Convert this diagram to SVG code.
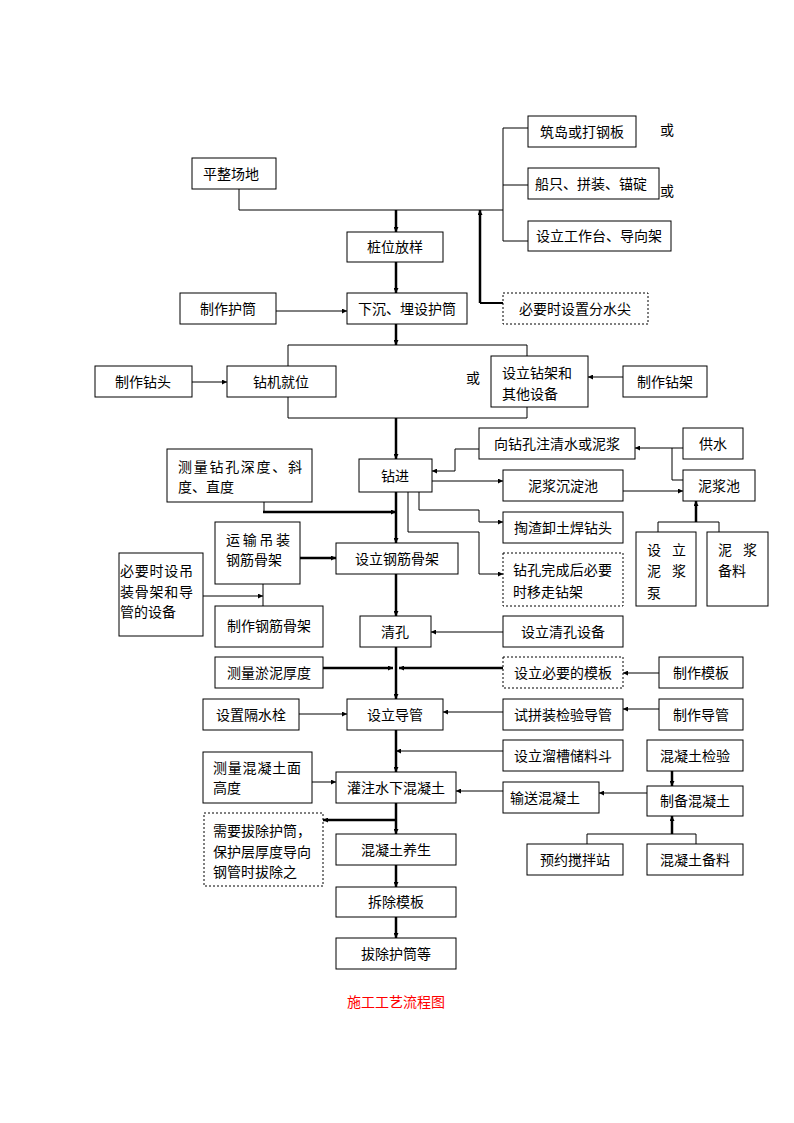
<svg xmlns="http://www.w3.org/2000/svg" width="794" height="1123" viewBox="0 0 794 1123">
<style>
.b{fill:#fff;stroke:#000;stroke-width:1}
.d{fill:#fff;stroke:#000;stroke-width:1;stroke-dasharray:2 2}
text{font-family:"Noto Sans CJK SC","Noto Sans",sans-serif;font-size:14px;fill:#000}
.m{text-anchor:middle}
.c{fill:none;stroke:#000;stroke-width:1}
.t{fill:none;stroke:#000;stroke-width:2.5}
.a{marker-end:url(#ar)}
</style>
<defs>
<marker id="ar" viewBox="0 0 6 6" markerWidth="6" markerHeight="5" refX="6" refY="3" orient="auto" markerUnits="userSpaceOnUse">
<path d="M0,0 L6,3 L0,6 z" fill="#000"/>
</marker>
</defs>
<rect width="794" height="1123" fill="#fff"/>
<g id="connectors">
<path class="c" d="M239,189 V210 H503"/>
<path class="c" d="M503,128 V241 M503,128 H528 M503,185 H528 M503,241 H528"/>
<path class="t a" d="M396,210 V232"/>
<path class="t a" d="M396,262 V293"/>
<path class="c a" d="M276,311 H347"/>
<path class="c" d="M503,303 H480" style="stroke-width:2"/>
<path class="c a" d="M480,303 V210" style="stroke-width:2.5"/>
<path class="t a" d="M396,324 V345"/>
<path class="c" d="M288,366 V345 H527 V356 M288,397 V418 H527 V407"/>
<path class="c a" d="M192,382 H227"/>
<path class="c a" d="M623,377 H588"/>
<path class="t a" d="M396,418 V459"/>
<path class="c a" d="M683,448 H635"/>
<path class="c" d="M672,448 V480 H683"/>
<path class="c a" d="M479,449 H455 V471 H432"/>
<path class="c a" d="M432,481 H503"/>
<path class="c a" d="M623,491 H683"/>
<path class="c" d="M264,502 V512"/>
<path class="t a" d="M263,512 H396"/>
<path class="c a" d="M419,492 V510 H479 V522 H503"/>
<path class="c a" d="M408,492 V532 H479 V574 H503"/>
<path class="t a" d="M396,492 V543"/>
<path class="t a" d="M696,522 V501"/>
<path class="c" d="M658,532 V522 H719 V532"/>
<path class="t a" d="M300,558 H336"/>
<path class="c a" d="M203,596 H263"/>
<path class="c" d="M263,584 V606"/>
<path class="t a" d="M396,574 V616"/>
<path class="c a" d="M503,632 H431"/>
<path class="t a" d="M396,647 V699"/>
<path class="t a" d="M323,668 H393"/>
<path class="t a" d="M503,668 H399"/>
<path class="c a" d="M659,673 H623"/>
<path class="c a" d="M299,714 H347"/>
<path class="c a" d="M503,712 H443"/>
<path class="c a" d="M659,709 H623"/>
<path class="t a" d="M396,730 V772"/>
<path class="c a" d="M503,751 H396"/>
<path class="c a" d="M312,782 H336"/>
<path class="c a" d="M503,791 H456"/>
<path class="t a" d="M672,771 V786"/>
<path class="c a" d="M647,793 H599"/>
<path class="t a" d="M396,803 V834"/>
<path class="t a" d="M396,820 H323"/>
<path class="t a" d="M672,834 V816"/>
<path class="c" d="M587,844 V834 H696 V844"/>
<path class="t a" d="M396,865 V887"/>
<path class="t a" d="M396,917 V938"/>
</g>
<g id="n1"><rect class="b" x="192" y="158" width="84" height="31"/><text class="m" x="231" y="179">平整场地</text></g>
<g id="n2"><rect class="b" x="528" y="116" width="108" height="31"/><text class="m" x="582" y="137">筑岛或打钢板</text></g>
<g id="n3"><rect class="b" x="528" y="168" width="131" height="31"/><text class="m" x="591" y="189">船只、拼装、锚碇</text></g>
<g id="n4"><rect class="b" x="528" y="221" width="143" height="30"/><text class="m" x="599" y="241">设立工作台、导向架</text></g>
<g id="or1"><text x="660" y="135">或</text><text x="660" y="196">或</text><text x="466" y="383">或</text></g>
<g id="n5"><rect class="b" x="347" y="232" width="96" height="30"/><text class="m" x="395" y="252">桩位放样</text></g>
<g id="n6"><rect class="b" x="180" y="293" width="96" height="31"/><text class="m" x="228" y="314">制作护筒</text></g>
<g id="n7"><rect class="b" x="347" y="293" width="120" height="31"/><text class="m" x="407" y="314">下沉、埋设护筒</text></g>
<g id="n8"><rect class="d" x="503" y="293" width="145" height="31"/><text class="m" x="575" y="314">必要时设置分水尖</text></g>
<g id="n9"><rect class="b" x="95" y="366" width="97" height="31"/><text class="m" x="143" y="387">制作钻头</text></g>
<g id="n10"><rect class="b" x="227" y="366" width="109" height="31"/><text class="m" x="281" y="387">钻机就位</text></g>
<g id="n11"><rect class="b" x="491" y="356" width="97" height="51"/><text x="502" y="378">设立钻架和</text><text x="502" y="399">其他设备</text></g>
<g id="n12"><rect class="b" x="623" y="366" width="84" height="31"/><text class="m" x="665" y="387">制作钻架</text></g>
<g id="n13"><rect class="b" x="479" y="428" width="156" height="31"/><text class="m" x="557" y="449">向钻孔注清水或泥浆</text></g>
<g id="n14"><rect class="b" x="683" y="428" width="60" height="31"/><text class="m" x="713" y="449">供水</text></g>
<g id="n15"><rect class="b" x="359" y="459" width="73" height="33"/><text class="m" x="395" y="481">钻进</text></g>
<g id="n16"><rect class="b" x="167" y="449" width="145" height="53"/><text x="178" y="472" textLength="124" lengthAdjust="spacing">测量钻孔深度、斜</text><text x="178" y="492">度、直度</text></g>
<g id="n17"><rect class="b" x="503" y="470" width="120" height="31"/><text class="m" x="563" y="491">泥浆沉淀池</text></g>
<g id="n18"><rect class="b" x="683" y="470" width="72" height="31"/><text class="m" x="719" y="491">泥浆池</text></g>
<g id="n19"><rect class="b" x="503" y="512" width="120" height="31"/><text class="m" x="563" y="533">掏渣卸土焊钻头</text></g>
<g id="n20"><rect class="b" x="215" y="522" width="85" height="62"/><text x="226" y="545" textLength="64" lengthAdjust="spacing">运输吊装</text><text x="226" y="565">钢筋骨架</text></g>
<g id="n21"><rect class="b" x="336" y="543" width="122" height="31"/><text class="m" x="397" y="564">设立钢筋骨架</text></g>
<g id="n22"><rect class="d" x="503" y="553" width="120" height="53"/><text x="513" y="575" textLength="99" lengthAdjust="spacing">钻孔完成后必要</text><text x="513" y="597">时移走钻架</text></g>
<g id="n23"><rect class="b" x="636" y="532" width="60" height="74"/><text x="647" y="555" textLength="39" lengthAdjust="spacing">设 立</text><text x="647" y="576" textLength="39" lengthAdjust="spacing">泥 浆</text><text x="647" y="598">泵</text></g>
<g id="n24"><rect class="b" x="707" y="532" width="61" height="74"/><text x="718" y="555" textLength="39" lengthAdjust="spacing">泥 浆</text><text x="718" y="576">备料</text></g>
<g id="n25"><rect class="b" x="119" y="553" width="84" height="83"/><text x="120" y="576" textLength="73" lengthAdjust="spacing">必要时设吊</text><text x="120" y="597" textLength="73" lengthAdjust="spacing">装骨架和导</text><text x="120" y="617">管的设备</text></g>
<g id="n26"><rect class="b" x="215" y="606" width="108" height="41"/><text class="m" x="269" y="631">制作钢筋骨架</text></g>
<g id="n27"><rect class="b" x="360" y="616" width="71" height="31"/><text class="m" x="395" y="637">清孔</text></g>
<g id="n28"><rect class="b" x="503" y="616" width="120" height="31"/><text class="m" x="563" y="637">设立清孔设备</text></g>
<g id="n29"><rect class="b" x="215" y="657" width="108" height="31"/><text class="m" x="269" y="678">测量淤泥厚度</text></g>
<g id="n30"><rect class="d" x="503" y="657" width="120" height="31"/><text class="m" x="563" y="678">设立必要的模板</text></g>
<g id="n31"><rect class="b" x="659" y="657" width="84" height="31"/><text class="m" x="701" y="678">制作模板</text></g>
<g id="n32"><rect class="b" x="203" y="699" width="96" height="31"/><text class="m" x="251" y="720">设置隔水栓</text></g>
<g id="n33"><rect class="b" x="347" y="699" width="96" height="31"/><text class="m" x="395" y="720">设立导管</text></g>
<g id="n34"><rect class="b" x="503" y="699" width="120" height="31"/><text class="m" x="563" y="720">试拼装检验导管</text></g>
<g id="n35"><rect class="b" x="659" y="699" width="84" height="31"/><text class="m" x="701" y="720">制作导管</text></g>
<g id="n36"><rect class="b" x="503" y="740" width="120" height="31"/><text class="m" x="563" y="761">设立溜槽储料斗</text></g>
<g id="n37"><rect class="b" x="647" y="740" width="96" height="31"/><text class="m" x="695" y="761">混凝土检验</text></g>
<g id="n38"><rect class="b" x="203" y="752" width="109" height="51"/><text x="213" y="773" textLength="88" lengthAdjust="spacing">测量混凝土面</text><text x="213" y="793">高度</text></g>
<g id="n39"><rect class="b" x="336" y="772" width="120" height="31"/><text class="m" x="396" y="793">灌注水下混凝土</text></g>
<g id="n40"><rect class="b" x="503" y="782" width="96" height="31"/><text class="m" x="545" y="803">输送混凝土</text></g>
<g id="n41"><rect class="b" x="647" y="786" width="96" height="30"/><text class="m" x="695" y="806">制备混凝土</text></g>
<g id="n42"><rect class="d" x="204" y="813" width="119" height="73"/><text x="213" y="836">需要拔除护筒，</text><text x="213" y="857">保护层厚度导向</text><text x="213" y="877">钢管时拔除之</text></g>
<g id="n43"><rect class="b" x="336" y="834" width="120" height="31"/><text class="m" x="396" y="855">混凝土养生</text></g>
<g id="n44"><rect class="b" x="527" y="844" width="96" height="31"/><text class="m" x="575" y="865">预约搅拌站</text></g>
<g id="n45"><rect class="b" x="647" y="844" width="96" height="31"/><text class="m" x="695" y="865">混凝土备料</text></g>
<g id="n46"><rect class="b" x="336" y="887" width="120" height="30"/><text class="m" x="396" y="907">拆除模板</text></g>
<g id="n47"><rect class="b" x="336" y="938" width="120" height="31"/><text class="m" x="396" y="959">拔除护筒等</text></g>
<g id="caption"><text class="m" x="396" y="1007" style="fill:#ff0000">施工工艺流程图</text></g>
</svg>
